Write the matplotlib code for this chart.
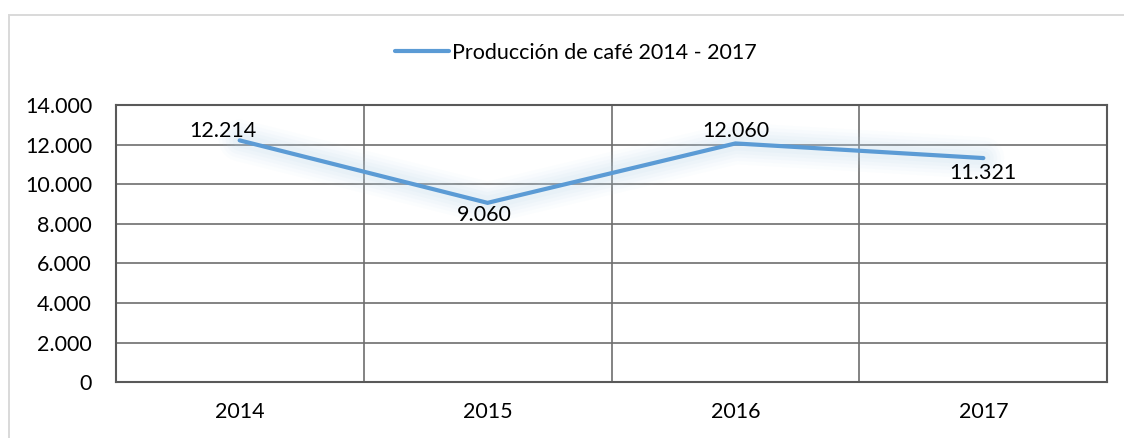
import matplotlib
matplotlib.use("Agg")
import matplotlib.pyplot as plt
from matplotlib.lines import Line2D
from matplotlib.ticker import FuncFormatter, MultipleLocator

years = ["2014", "2015", "2016", "2017"]
produccion = [12214, 9060, 12060, 11321]
value_labels = ["12.214", "9.060", "12.060", "11.321"]
series_name = "Producción de café 2014 - 2017"

plt.rcParams['font.family'] = ['Lato', 'DejaVu Sans']
FS = 15.5
LINE = '#5B9BD5'

fig = plt.figure(figsize=(11.24, 4.38), dpi=100)
fig.patch.set_facecolor('white')

# outer chart border (only left and top visible in the reference)
bx, by = 8.5/1124, 1 - 14.5/438
fig.add_artist(Line2D([bx, bx, 1.0], [0.0, by, by], transform=fig.transFigure,
                      color='#D9D9D9', lw=1.4, solid_joinstyle='miter'))

ax = fig.add_axes([115.7/1124, (438-382.3)/438, 991.6/1124, 277.3/438])
x = list(range(len(years)))

# glow
for lw, a in [(30, 0.035), (25, 0.04), (20, 0.05), (15, 0.06), (10, 0.07)]:
    ax.plot(x, produccion, color='#BDD7EE', lw=lw, alpha=a * 1.4,
            solid_capstyle='round', solid_joinstyle='round', zorder=2)
ax.plot(x, produccion, color=LINE, lw=3.0, solid_capstyle='round',
        solid_joinstyle='miter', zorder=3, label=series_name)

ax.set_xlim(-0.5, len(years) - 0.5)
ax.set_ylim(0, 14000)
ax.yaxis.set_major_locator(MultipleLocator(2000))
ax.yaxis.set_major_formatter(FuncFormatter(lambda v, p: f"{int(v):,}".replace(",", ".")))
ax.set_xticks(x)
ax.set_xticklabels(years)
ax.set_xticks([i + 0.5 for i in x[:-1]], minor=True)

ax.grid(True, axis='y', which='major', color='#6E6E6E', lw=1.2, zorder=1)
ax.grid(True, axis='x', which='minor', color='#6E6E6E', lw=1.2, zorder=1)
ax.grid(False, axis='x', which='major')
ax.set_axisbelow(True)
for s in ax.spines.values():
    s.set_color('#595959')
    s.set_linewidth(1.5)
ax.tick_params(axis='both', which='both', length=0, labelsize=FS, colors='black')
ax.tick_params(axis='y', pad=17)
ax.tick_params(axis='x', pad=14)

offsets = [(-17, 9.5), (-3, -12), (0, 12.5), (0, -14.5)]
for xi, yi, lab, (dx, dy) in zip(x, produccion, value_labels, offsets):
    ax.annotate(lab, (xi, yi), xytext=(dx, dy), textcoords='offset pixels',
                ha='center', va='center', fontsize=FS, color='black', zorder=4)

fig.legend(loc='center', bbox_to_anchor=(576/1124, 1 - 53/438), frameon=False,
           fontsize=FS, handlelength=2.5, handletextpad=0.15)

fig.savefig("out.png", dpi=100)
